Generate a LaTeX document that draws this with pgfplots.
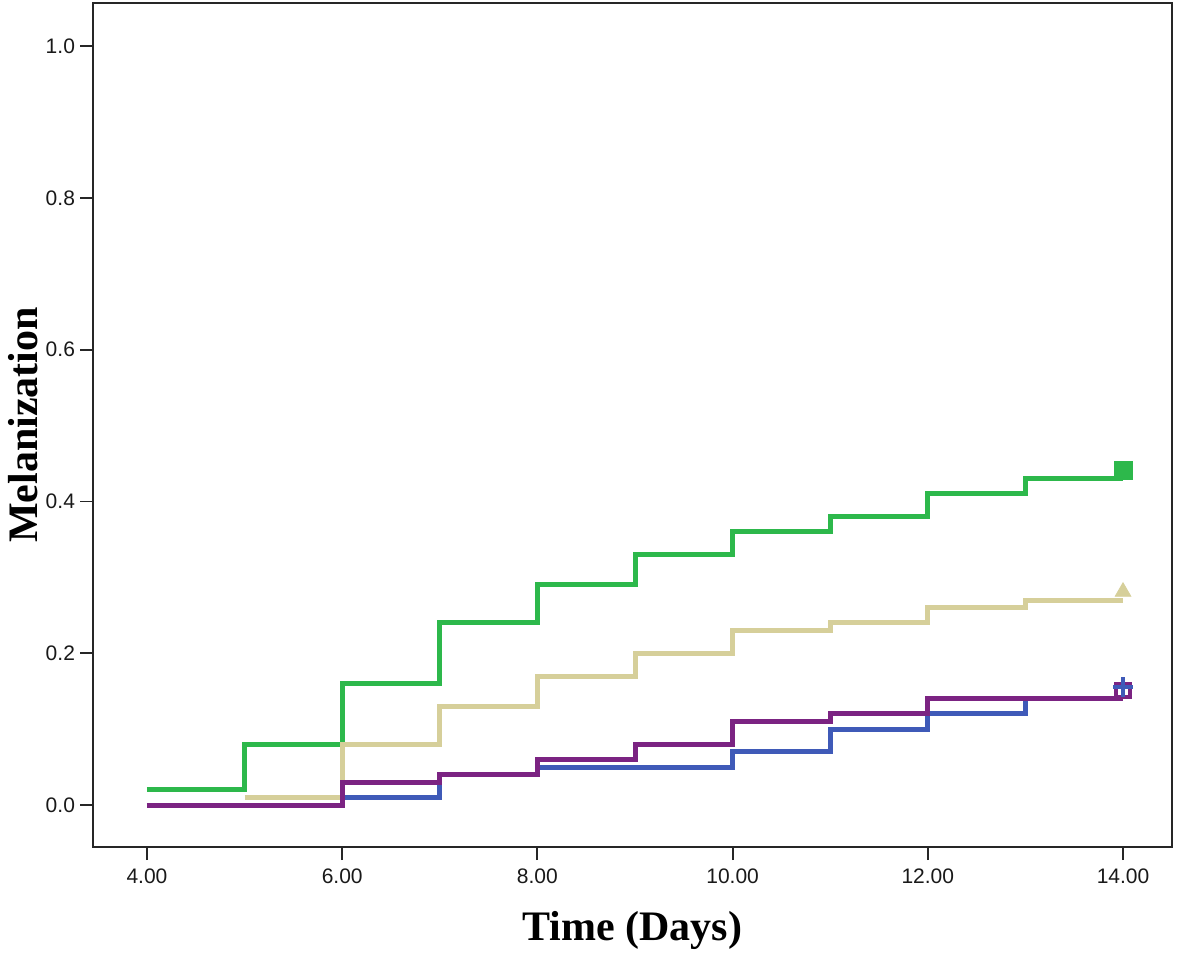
\documentclass[border=0pt]{standalone}
\usepackage{pgfplots}
\pgfplotsset{compat=1.18}
\usepackage{fontspec}
\setmainfont{Liberation Sans}
\newfontfamily\labelfont{Liberation Serif}
\definecolor{cgreen}{RGB}{45,184,75}
\definecolor{ctan}{RGB}{214,207,154}
\definecolor{cblue}{RGB}{63,90,184}
\definecolor{cpurple}{RGB}{123,35,130}
\begin{document}
\begin{tikzpicture}
\path[use as bounding box] (0,0) rectangle (590.5pt,480pt);
\begin{axis}[
  at={(46.5pt,56.5pt)}, anchor=south west,
  scale only axis, width=539.5pt, height=422pt,
  xmin=3.447, xmax=14.502, ymin=-0.0553, ymax=1.0567,
  xtick={4,6,8,10,12,14}, ytick={0,0.2,0.4,0.6,0.8,1.0},
  tick align=outside, tick pos=left,
  major tick length=6.5pt,
  axis line style={line width=0.9pt, black!85},
  every tick/.style={line width=0.9pt, black!85},
  /pgf/number format/assume math mode=true,
  xticklabel={\pgfmathprintnumber[fixed,fixed zerofill,precision=2]{\tick}},
  yticklabel={\pgfmathprintnumber[fixed,fixed zerofill,precision=1]{\tick}},
  ticklabel style={font=\fontsize{10.5}{12}\selectfont, text=black!90},
  xticklabel style={yshift=-1pt},
  yticklabel style={xshift=1pt},
  xlabel={\labelfont\bfseries\fontsize{21}{24}\selectfont Time (Days)},
  ylabel={\labelfont\bfseries\fontsize{21}{24}\selectfont Melanization},
  xlabel style={at={(axis description cs:0.5,0)}, anchor=north, inner sep=0pt, yshift=-32pt},
  ylabel style={at={(axis description cs:0,0.5)}, anchor=center, inner sep=0pt, yshift=35pt},
  clip=false,
]
\addplot[const plot, color=cgreen, line width=2.5pt] coordinates {
 (4,0.02) (5,0.08) (6,0.16) (7,0.24) (8,0.29) (9,0.33) (10,0.36) (11,0.38) (12,0.41) (13,0.43) (14,0.43)};
\addplot[const plot, color=ctan, line width=2.5pt] coordinates {
 (5,0.01) (6,0.08) (7,0.13) (8,0.17) (9,0.20) (10,0.23) (11,0.24) (12,0.26) (13,0.27) (14,0.27)};
\addplot[const plot, color=cblue, line width=2.5pt] coordinates {
 (4,0) (6,0.01) (7,0.04) (8,0.05) (10,0.07) (11,0.10) (12,0.12) (13,0.14) (14,0.14)};
\addplot[const plot, color=cpurple, line width=2.5pt] coordinates {
 (4,0) (6,0.03) (7,0.04) (8,0.06) (9,0.08) (10,0.11) (11,0.12) (12,0.14) (14,0.14)};
\addplot[only marks, mark=square*, mark size=4.5pt, color=cgreen] coordinates {(14,0.441)};
\addplot[only marks, mark=triangle*, mark size=4.5pt, color=ctan] coordinates {(14,0.281)};
\addplot[only marks, mark=square, mark size=3.4pt, color=cpurple, mark options={line width=2pt}] coordinates {(14,0.151)};
\addplot[only marks, mark=+, mark size=5pt, color=cblue, mark options={line width=2pt}] coordinates {(14,0.155)};
\end{axis}
\end{tikzpicture}
\end{document}
